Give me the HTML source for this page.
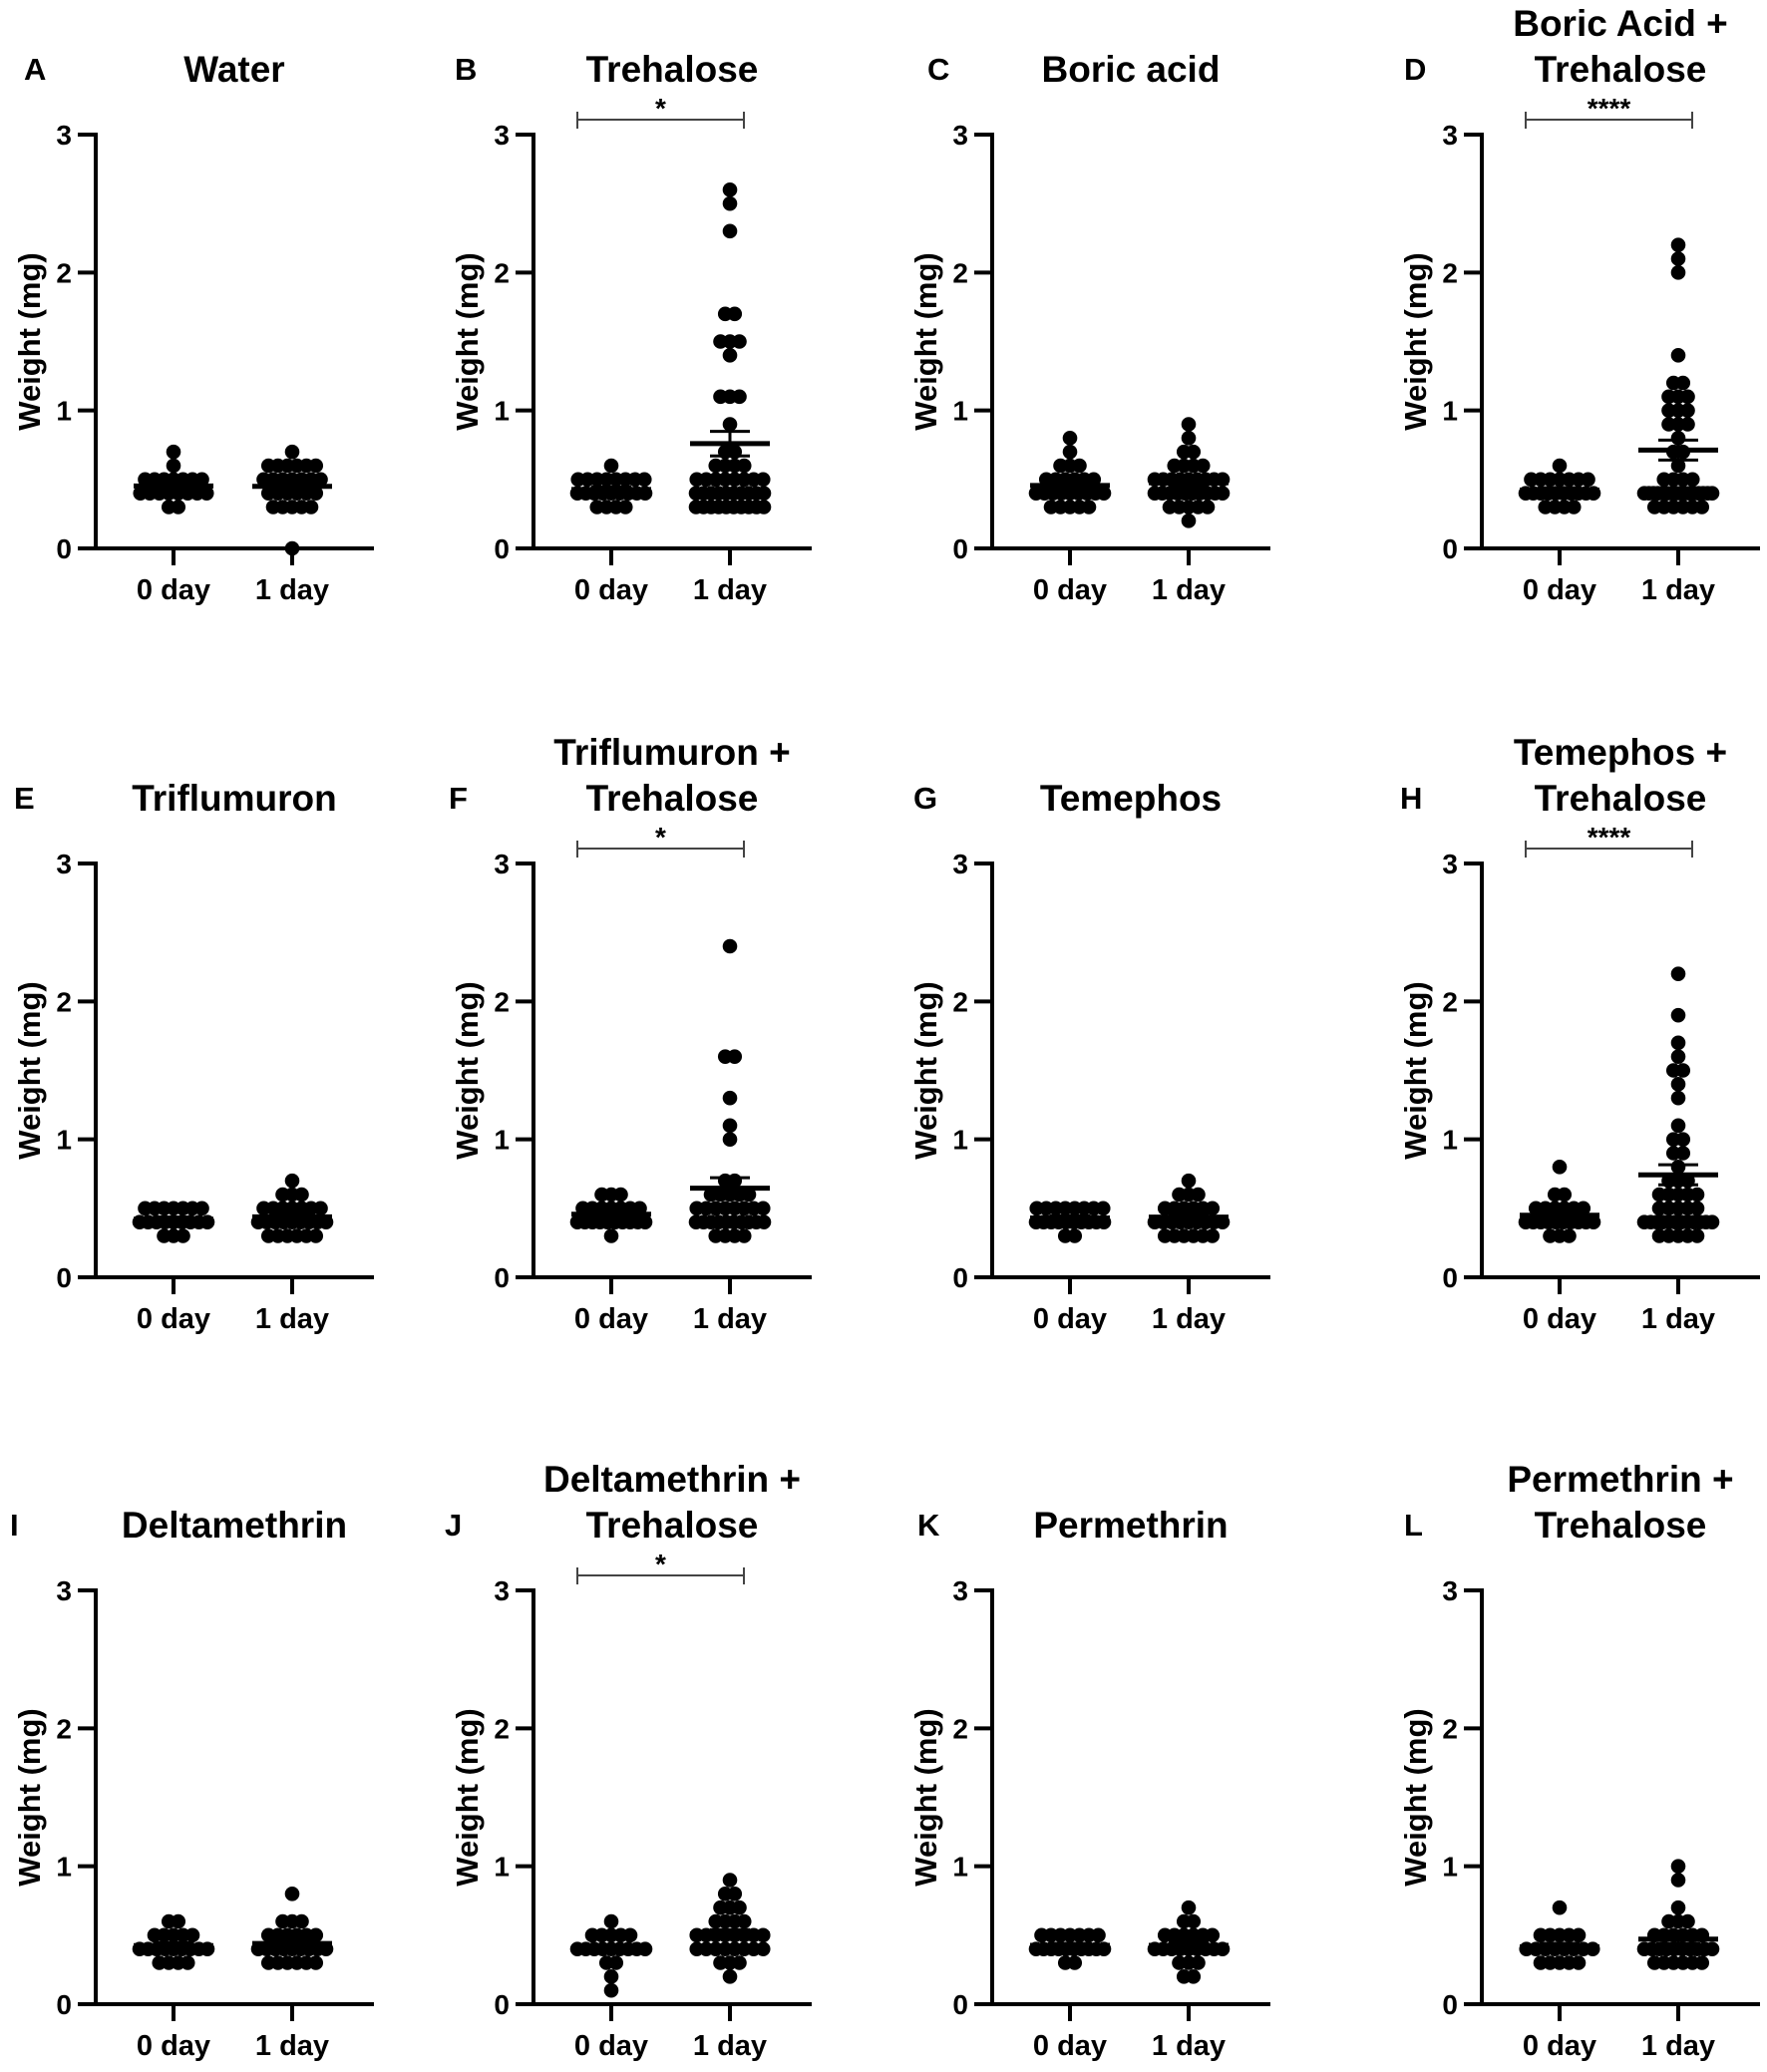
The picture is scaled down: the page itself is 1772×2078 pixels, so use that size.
<!DOCTYPE html>
<html><head><meta charset="utf-8">
<style>
html,body{margin:0;padding:0;background:#fff;}
svg{display:block;}
text{font-family:"Liberation Sans",Arial,sans-serif;font-weight:bold;fill:#000;}
</style></head>
<body>
<svg id="fig" width="1772" height="2078" viewBox="0 0 1772 2078" xmlns="http://www.w3.org/2000/svg"></svg>
<script>
// ---- data (weight in mg) ----
const panelLetters = ["A","B","C","D","E","F","G","H","I","J","K","L"];
const panelTitles = [["Water"],["Trehalose"],["Boric acid"],["Boric Acid +","Trehalose"],
  ["Triflumuron"],["Triflumuron +","Trehalose"],["Temephos"],["Temephos +","Trehalose"],
  ["Deltamethrin"],["Deltamethrin +","Trehalose"],["Permethrin"],["Permethrin  +","Trehalose"]];
const categories = ["0 day","1 day"];
const yTicks = [0,1,2,3];
const significance = ["", "*", "", "****", "", "*", "", "****", "", "*", "", ""];

const waterDay0 = [0.7,0.6,0.5,0.5,0.5,0.5,0.5,0.5,0.5,0.4,0.4,0.4,0.4,0.4,0.4,0.4,0.4,0.3,0.3];
const waterDay1 = [0.7,0.6,0.6,0.6,0.6,0.6,0.6,0.5,0.5,0.5,0.5,0.5,0.5,0.5,0.4,0.4,0.4,0.4,0.4,0.4,0.3,0.3,0.3,0.3,0.3,0.0];
const trehDay0 = [0.6,0.5,0.5,0.5,0.5,0.5,0.5,0.5,0.5,0.4,0.4,0.4,0.4,0.4,0.4,0.4,0.4,0.4,0.3,0.3,0.3,0.3];
const trehDay1 = [2.6,2.5,2.3,1.7,1.7,1.5,1.5,1.5,1.4,1.1,1.1,1.1,0.9,0.7,0.7,0.6,0.6,0.6,0.6,0.5,0.5,0.5,0.5,0.5,0.5,0.5,0.5,0.4,0.4,0.4,0.4,0.4,0.4,0.4,0.4,0.4,0.4,0.3,0.3,0.3,0.3,0.3,0.3,0.3,0.3,0.3,0.3];
const boricDay0 = [0.8,0.7,0.6,0.6,0.6,0.5,0.5,0.5,0.5,0.5,0.5,0.4,0.4,0.4,0.4,0.4,0.4,0.4,0.4,0.4,0.3,0.3,0.3,0.3,0.3];
const boricDay1 = [0.9,0.8,0.7,0.7,0.6,0.6,0.6,0.6,0.5,0.5,0.5,0.5,0.5,0.5,0.5,0.5,0.5,0.4,0.4,0.4,0.4,0.4,0.4,0.4,0.4,0.4,0.4,0.3,0.3,0.3,0.3,0.3,0.2];
const boricTrehDay0 = [0.6,0.5,0.5,0.5,0.5,0.5,0.5,0.5,0.4,0.4,0.4,0.4,0.4,0.4,0.4,0.4,0.4,0.4,0.3,0.3,0.3,0.3];
const boricTrehDay1 = [2.2,2.1,2.0,1.4,1.2,1.2,1.1,1.1,1.1,1.0,1.0,1.0,0.9,0.9,0.9,0.8,0.7,0.7,0.6,0.5,0.5,0.5,0.5,0.4,0.4,0.4,0.4,0.4,0.4,0.4,0.4,0.4,0.4,0.4,0.4,0.4,0.4,0.4,0.4,0.3,0.3,0.3,0.3,0.3,0.3];
const trifDay0 = [0.5,0.5,0.5,0.5,0.5,0.5,0.5,0.4,0.4,0.4,0.4,0.4,0.4,0.4,0.4,0.4,0.3,0.3,0.3];
const trifDay1 = [0.7,0.6,0.6,0.6,0.5,0.5,0.5,0.5,0.5,0.5,0.5,0.4,0.4,0.4,0.4,0.4,0.4,0.4,0.4,0.4,0.3,0.3,0.3,0.3,0.3,0.3];
const trifTrehDay0 = [0.6,0.6,0.6,0.5,0.5,0.5,0.5,0.5,0.5,0.5,0.4,0.4,0.4,0.4,0.4,0.4,0.4,0.4,0.4,0.4,0.3];
const trifTrehDay1 = [2.4,1.6,1.6,1.3,1.1,1.0,0.7,0.7,0.6,0.6,0.6,0.6,0.6,0.5,0.5,0.5,0.5,0.5,0.5,0.5,0.5,0.4,0.4,0.4,0.4,0.4,0.4,0.4,0.4,0.4,0.4,0.3,0.3,0.3,0.3];
const temeDay0 = [0.5,0.5,0.5,0.5,0.5,0.5,0.5,0.5,0.4,0.4,0.4,0.4,0.4,0.4,0.4,0.4,0.4,0.4,0.3,0.3];
const temeDay1 = [0.7,0.6,0.6,0.6,0.5,0.5,0.5,0.5,0.5,0.5,0.4,0.4,0.4,0.4,0.4,0.4,0.4,0.4,0.4,0.3,0.3,0.3,0.3,0.3,0.3];
const temeTrehDay0 = [0.8,0.6,0.6,0.5,0.5,0.5,0.5,0.5,0.5,0.4,0.4,0.4,0.4,0.4,0.4,0.4,0.4,0.4,0.4,0.3,0.3,0.3];
const temeTrehDay1 = [2.2,1.9,1.7,1.6,1.5,1.5,1.4,1.3,1.1,1.0,1.0,0.9,0.9,0.8,0.7,0.7,0.7,0.6,0.6,0.6,0.6,0.6,0.5,0.5,0.5,0.5,0.5,0.4,0.4,0.4,0.4,0.4,0.4,0.4,0.4,0.4,0.4,0.4,0.4,0.3,0.3,0.3,0.3,0.3];
const deltaDay0 = [0.6,0.6,0.5,0.5,0.5,0.5,0.5,0.4,0.4,0.4,0.4,0.4,0.4,0.4,0.4,0.4,0.3,0.3,0.3,0.3];
const deltaDay1 = [0.8,0.6,0.6,0.6,0.5,0.5,0.5,0.5,0.5,0.5,0.4,0.4,0.4,0.4,0.4,0.4,0.4,0.4,0.4,0.3,0.3,0.3,0.3,0.3,0.3];
const deltaTrehDay0 = [0.6,0.5,0.5,0.5,0.5,0.5,0.4,0.4,0.4,0.4,0.4,0.4,0.4,0.4,0.4,0.3,0.3,0.2,0.1];
const deltaTrehDay1 = [0.9,0.8,0.8,0.7,0.7,0.7,0.6,0.6,0.6,0.6,0.5,0.5,0.5,0.5,0.5,0.5,0.5,0.5,0.4,0.4,0.4,0.4,0.4,0.4,0.4,0.4,0.3,0.3,0.3,0.2];
const permDay0 = [0.5,0.5,0.5,0.5,0.5,0.5,0.5,0.4,0.4,0.4,0.4,0.4,0.4,0.4,0.4,0.4,0.4,0.3,0.3];
const permDay1 = [0.7,0.6,0.6,0.5,0.5,0.5,0.5,0.5,0.5,0.4,0.4,0.4,0.4,0.4,0.4,0.4,0.4,0.4,0.3,0.3,0.3,0.2,0.2];
const permTrehDay0 = [0.7,0.5,0.5,0.5,0.5,0.5,0.4,0.4,0.4,0.4,0.4,0.4,0.4,0.4,0.3,0.3,0.3,0.3,0.3];
const permTrehDay1 = [1.0,0.9,0.7,0.6,0.6,0.6,0.5,0.5,0.5,0.5,0.5,0.5,0.4,0.4,0.4,0.4,0.4,0.4,0.4,0.4,0.4,0.4,0.3,0.3,0.3,0.3,0.3,0.3];

const day0Series = [waterDay0,trehDay0,boricDay0,boricTrehDay0,trifDay0,trifTrehDay0,temeDay0,temeTrehDay0,deltaDay0,deltaTrehDay0,permDay0,permTrehDay0];
const day1Series = [waterDay1,trehDay1,boricDay1,boricTrehDay1,trifDay1,trifTrehDay1,temeDay1,temeTrehDay1,deltaDay1,deltaTrehDay1,permDay1,permTrehDay1];

// ---- layout ----
const NS = "http://www.w3.org/2000/svg";
const svg = document.getElementById("fig");
const colAxisX = [96, 535, 995, 1486];
const rowBaseY = [550, 1281, 2010];
const plotH = 415, yMax = 3;
const catOffset = [78, 197];
const letterX = [24, 456, 930, 1408];
const rowLetterOffsetX = [[0,0,0,0],[-10,-6,-14,-4],[-14,-10,-10,0]];

function mk(tag, attrs, parent){
  const e = document.createElementNS(NS, tag);
  for (const k in attrs) e.setAttribute(k, attrs[k]);
  (parent||svg).appendChild(e);
  return e;
}

for (let p = 0; p < 12; p++) {
  const r = Math.floor(p/4), c = p % 4;
  const ax = colAxisX[c], y0 = rowBaseY[r];
  const yScale = v => y0 - v / yMax * plotH;
  const xScale = i => ax + catOffset[i];

  const g = mk("g", {});
  
  

  const lt = mk("text", {x: letterX[c] + rowLetterOffsetX[r][c], y: y0 - 470, "font-size": 31}, g);
  lt.textContent = panelLetters[p];
  
  

  const lines = panelTitles[p];
  const tcx = ax + 139;
  lines.forEach((ln, i) => {
    const ty = lines.length === 1 ? y0 - 468 : y0 - 514 + i * 46;
    const t = mk("text", {x: tcx, y: ty, "font-size": 37, "text-anchor": "middle"}, g);
    t.textContent = ln;
    
    
  });

  const yAxis = mk("line", {x1: ax, y1: yScale(yMax) - 2, x2: ax, y2: y0 + 2, stroke: "#000", "stroke-width": 4}, g);
  
  
  yTicks.forEach(v => {
    const ty = yScale(v);
    const tk = mk("line", {x1: ax - 18, y1: ty, x2: ax, y2: ty, stroke: "#000", "stroke-width": 4}, g);
    
    
    const tl = mk("text", {x: ax - 24, y: ty + 10, "font-size": 28, "text-anchor": "end"}, g);
    tl.textContent = String(v);
    
    
  });
  const yt = mk("text", {x: 0, y: 0, "font-size": 31, "text-anchor": "middle",
    transform: "translate(" + (ax - 56) + "," + (y0 - plotH/2) + ") rotate(-90)"}, g);
  yt.textContent = (p === 4 || p === 8) ? "Weight (mg)" : "Weight  (mg)";
  
  

  const xAxis = mk("line", {x1: ax - 18, y1: y0, x2: ax + 279, y2: y0, stroke: "#000", "stroke-width": 4}, g);
  
  
  categories.forEach((cat, i) => {
    const x = xScale(i);
    const tk = mk("line", {x1: x, y1: y0, x2: x, y2: y0 + 17, stroke: "#000", "stroke-width": 4}, g);
    
    
    const tl = mk("text", {x: x, y: y0 + 51, "font-size": 29, "text-anchor": "middle"}, g);
    tl.textContent = cat;
    
    
  });

  [day0Series[p], day1Series[p]].forEach((vals, si) => {
    const cx = xScale(si);
    const groups = {};
    vals.forEach(v => { const k = v.toFixed(2); (groups[k] = groups[k] || []).push(v); });
    Object.keys(groups).forEach(k => {
      const arr = groups[k];
      const n = arr.length;
      const sp = n > 1 ? Math.min(9.5, 68 / (n - 1)) : 0;
      arr.forEach((v, j) => {
        const dx = (j - (n - 1) / 2) * sp;
        const dot = mk("circle", {cx: cx + dx, cy: yScale(v), r: 7.3, fill: "#000"}, g);
        
        
      });
    });
    const n = vals.length;
    const mean = vals.reduce((a, b) => a + b, 0) / n;
    const sd = Math.sqrt(vals.reduce((a, b) => a + (b - mean) * (b - mean), 0) / (n - 1));
    const sem = sd / Math.sqrt(n);
    const my = yScale(mean);
    const ml = mk("line", {x1: cx - 40, y1: my, x2: cx + 40, y2: my, stroke: "#000", "stroke-width": 5}, g);
    
    
    const eu = yScale(mean + sem), ed = yScale(mean - sem);
    const ev = mk("line", {x1: cx, y1: eu, x2: cx, y2: ed, stroke: "#000", "stroke-width": 3}, g);
    
    
    [eu, ed].forEach(yy => {
      const w = mk("line", {x1: cx - 20, y1: yy, x2: cx + 20, y2: yy, stroke: "#000", "stroke-width": 3}, g);
      
      
    });
  });

  if (significance[p]) {
    const by = yScale(yMax) - 15;
    const bx1 = xScale(0) - 34, bx2 = xScale(1) + 14;
    const bg = mk("g", {}, g);
    
    
    mk("line", {x1: bx1, y1: by, x2: bx2, y2: by, stroke: "#444", "stroke-width": 2}, bg);
    mk("line", {x1: bx1, y1: by - 8, x2: bx1, y2: by + 9, stroke: "#444", "stroke-width": 2}, bg);
    mk("line", {x1: bx2, y1: by - 8, x2: bx2, y2: by + 9, stroke: "#444", "stroke-width": 2}, bg);
    const st = mk("text", {x: (bx1 + bx2) / 2, y: by - 2, "font-size": 28, "text-anchor": "middle"}, g);
    st.textContent = significance[p];
    
    
  }
}
</script>
</body></html>
